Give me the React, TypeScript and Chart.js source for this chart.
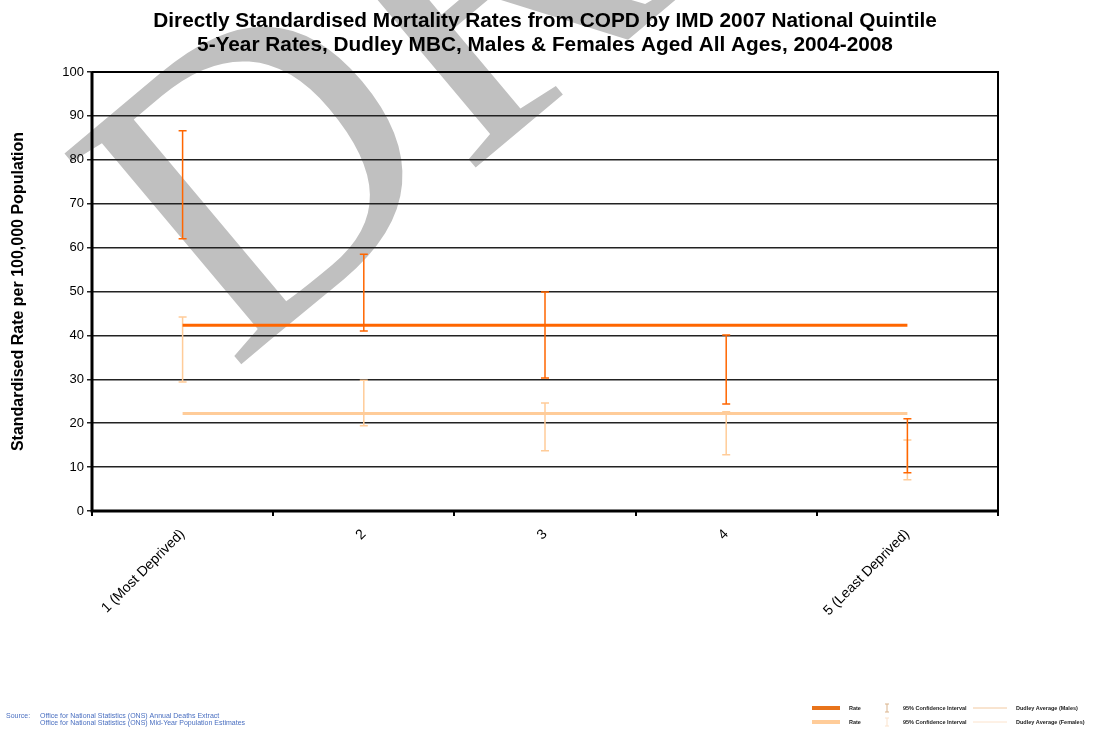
import React, { useEffect, useRef } from "react";
import { Chart, registerables } from "chart.js";

Chart.register(...registerables);

const categories = ["1 (Most Deprived)", "2", "3", "4", "5 (Least Deprived)"];
const maleLower = [62.0, 41.0, 30.3, 24.4, 8.7];
const maleUpper = [86.6, 58.5, 49.9, 40.1, 21.0];
const femaleLower = [29.4, 19.4, 13.7, 12.8, 7.1];
const femaleUpper = [44.2, 29.8, 24.6, 22.6, 16.2];
const maleAverage = [42.3, 42.3, 42.3, 42.3, 42.3];
const femaleAverage = [22.2, 22.2, 22.2, 22.2, 22.2];
const yTicks = [0, 10, 20, 30, 40, 50, 60, 70, 80, 90, 100];

const titleLines = [
  "Directly Standardised Mortality Rates from COPD by IMD 2007 National Quintile",
  "5-Year Rates, Dudley MBC, Males & Females Aged All Ages, 2004-2008",
];
const yTitle = "Standardised Rate per 100,000 Population";
const sourceLines = [
  "Office for National Statistics (ONS) Annual Deaths Extract",
  "Office for National Statistics (ONS) Mid-Year Population Estimates",
];

const MALE = "#FF6600";
const FEMALE = "#FFCC99";
const SANS = "Arial, 'Liberation Sans', sans-serif";

const watermarkPlugin = {
  id: "watermark",
  beforeDraw(chart: any) {
    const ctx = chart.ctx;
    ctx.save();
    ctx.fillStyle = "#C0C0C0";
    ctx.font = "420px 'Liberation Serif', 'Times New Roman', serif";
    ctx.translate(232, 372);
    ctx.rotate((-40 * Math.PI) / 180);
    ctx.textAlign = "left";
    ctx.textBaseline = "alphabetic";
    ctx.fillText("DRAFT", 0, 0);
    ctx.restore();
  },
};

const errorBarPlugin = {
  id: "errorBars",
  beforeDatasetsDraw(chart: any) {
    const ctx = chart.ctx;
    const x = chart.scales.x;
    const y = chart.scales.y;
    const draw = (lo: number[], hi: number[], color: string) => {
      ctx.save();
      ctx.strokeStyle = color;
      ctx.lineWidth = 1.5;
      lo.forEach((l, i) => {
        const px = x.getPixelForValue(i);
        const y1 = y.getPixelForValue(l);
        const y2 = y.getPixelForValue(hi[i]);
        ctx.beginPath();
        ctx.moveTo(px, y1);
        ctx.lineTo(px, y2);
        ctx.moveTo(px - 4, y1);
        ctx.lineTo(px + 4, y1);
        ctx.moveTo(px - 4, y2);
        ctx.lineTo(px + 4, y2);
        ctx.stroke();
      });
      ctx.restore();
    };
    draw(femaleLower, femaleUpper, FEMALE);
    draw(maleLower, maleUpper, MALE);
  },
};

const framePlugin = {
  id: "frame",
  afterDraw(chart: any) {
    const ctx = chart.ctx;
    const a = chart.chartArea;
    ctx.save();
    ctx.strokeStyle = "#000";
    ctx.lineWidth = 2;
    ctx.beginPath();
    ctx.moveTo(a.left, a.top);
    ctx.lineTo(a.right, a.top);
    ctx.lineTo(a.right, a.bottom);
    ctx.stroke();
    ctx.lineWidth = 3;
    ctx.beginPath();
    ctx.moveTo(a.left, a.top);
    ctx.lineTo(a.left, a.bottom);
    ctx.lineTo(a.right, a.bottom);
    ctx.stroke();

    // title
    ctx.fillStyle = "#000";
    ctx.font = `bold 20.8px ${SANS}`;
    ctx.textAlign = "center";
    ctx.textBaseline = "middle";
    ctx.fillText(titleLines[0], 545, 21);
    ctx.fillText(titleLines[1], 545, 45);

    // source
    ctx.fillStyle = "#4A6FC0";
    ctx.font = `7px ${SANS}`;
    ctx.textAlign = "left";
    ctx.fillText("Source:", 6, 716);
    ctx.fillText(sourceLines[0], 40, 716);
    ctx.fillText(sourceLines[1], 40, 723);

    // legend
    const rows = [
      { y: 708, bar: "#E8731A", ci: "#D9B38C", line: "#F2C9A0", label: "Dudley Average (Males)" },
      { y: 722, bar: FEMALE, ci: "#FBE3CC", line: "#FCE3CC", label: "Dudley Average (Females)" },
    ];
    rows.forEach((r) => {
      ctx.fillStyle = r.bar;
      ctx.fillRect(812, r.y - 2, 28, 4);
      ctx.strokeStyle = r.ci;
      ctx.lineWidth = 1;
      ctx.beginPath();
      ctx.moveTo(887, r.y - 4);
      ctx.lineTo(887, r.y + 4);
      ctx.moveTo(885, r.y - 4);
      ctx.lineTo(889, r.y - 4);
      ctx.moveTo(885, r.y + 4);
      ctx.lineTo(889, r.y + 4);
      ctx.stroke();
      ctx.strokeStyle = r.line;
      ctx.beginPath();
      ctx.moveTo(973, r.y);
      ctx.lineTo(1007, r.y);
      ctx.stroke();
      ctx.fillStyle = "#222";
      ctx.font = `bold 5.5px ${SANS}`;
      ctx.textAlign = "left";
      ctx.fillText("Rate", 849, r.y);
      ctx.fillText("95% Confidence Interval", 903, r.y);
      ctx.fillText(r.label, 1016, r.y);
    });
    ctx.restore();
  },
};

export default function App() {
  const ref = useRef<HTMLCanvasElement>(null);
  useEffect(() => {
    if (!ref.current) return;
    const chart = new Chart(ref.current, {
      type: "line",
      data: {
        labels: categories,
        datasets: [
          {
            label: "Dudley Average (Males)",
            data: maleAverage,
            borderColor: MALE,
            borderWidth: 3,
            pointRadius: 0,
            fill: false,
          },
          {
            label: "Dudley Average (Females)",
            data: femaleAverage,
            borderColor: FEMALE,
            borderWidth: 3,
            pointRadius: 0,
            fill: false,
          },
        ],
      },
      options: {
        responsive: false,
        animation: false,
        layout: { padding: { left: 0, right: 98, top: 72, bottom: 0 } },
        plugins: { legend: { display: false }, title: { display: false }, tooltip: { enabled: false } },
        scales: {
          x: {
            offset: true,
            grid: { offset: true, drawOnChartArea: false, drawTicks: true, tickLength: 5, color: "#000", lineWidth: 2 },
            border: { display: false },
            ticks: {
              color: "#000",
              font: { family: SANS, size: 14 },
              minRotation: 45,
              maxRotation: 45,
              autoSkip: false,
              padding: 10,
            },
            afterFit: (s: any) => {
              s.height = 222;
            },
          },
          y: {
            min: 0,
            max: 100,
            afterBuildTicks: (s: any) => {
              s.ticks = yTicks.map((v) => ({ value: v }));
            },
            grid: { color: "#222", lineWidth: 1.5, tickLength: 5 },
            border: { display: false },
            ticks: { color: "#000", font: { family: SANS, size: 13 }, padding: 3 },
            title: {
              display: true,
              text: yTitle,
              color: "#000",
              font: { family: SANS, size: 16, weight: "bold" },
              padding: { top: 9, bottom: 0 },
            },
            afterFit: (s: any) => {
              s.width = 92;
            },
          },
        },
      },
      plugins: [watermarkPlugin, errorBarPlugin, framePlugin],
    });
    return () => chart.destroy();
  }, []);
  return (
    <div style={{ position: "fixed", left: 0, top: 0, width: 1096, height: 733, background: "#fff" }}>
      <canvas ref={ref} width={1096} height={733} />
    </div>
  );
}
